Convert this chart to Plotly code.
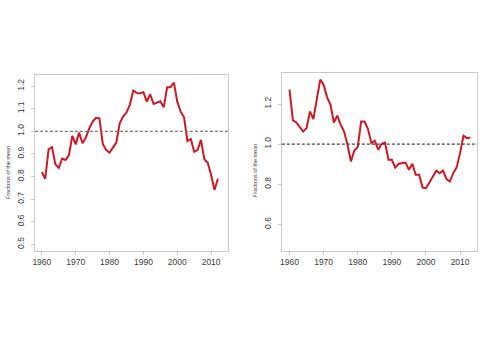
import plotly.graph_objects as go

years_a = list(range(1960, 2013))
values_a = [0.82, 0.79, 0.92, 0.93, 0.854, 0.838, 0.879, 0.873, 0.895, 0.98,
            0.942, 0.994, 0.947, 0.972, 1.013, 1.043, 1.06, 1.057, 0.944, 0.917,
            0.906, 0.93, 0.95, 1.035, 1.065, 1.083, 1.117, 1.18, 1.17, 1.167,
            1.173, 1.131, 1.164, 1.121, 1.127, 1.133, 1.106, 1.195, 1.195, 1.215,
            1.131, 1.087, 1.062, 0.957, 0.966, 0.909, 0.917, 0.962, 0.876, 0.861,
            0.807, 0.74, 0.79]

years_b = list(range(1960, 2014))
values_b = [1.272, 1.118, 1.108, 1.088, 1.063, 1.08, 1.163, 1.125, 1.222, 1.322,
            1.297, 1.235, 1.197, 1.108, 1.142, 1.097, 1.063, 0.997, 0.913, 0.968,
            0.985, 1.113, 1.113, 1.075, 1.005, 1.017, 0.972, 1.002, 1.008, 0.922,
            0.922, 0.883, 0.902, 0.905, 0.908, 0.872, 0.902, 0.847, 0.847, 0.783,
            0.78, 0.808, 0.838, 0.867, 0.855, 0.868, 0.825, 0.813, 0.855, 0.885,
            0.955, 1.042, 1.03, 1.033]

x_ticks = [1960, 1970, 1980, 1990, 2000, 2010]
y_ticks_a = [0.5, 0.6, 0.7, 0.8, 0.9, 1.0, 1.1, 1.2]
y_ticks_b = [0.6, 0.8, 1.0, 1.2]
ref_level = 1.0
axis_title = "Fractions of the mean"

W, H = 480, 342
RED = "#cc1a22"
BOX = "#c8c8c8"
TXT = "#3a3a3a"

fig = go.Figure()
fig.add_trace(go.Scatter(x=years_a, y=values_a, mode="lines",
                         line=dict(color=RED, width=2), xaxis="x", yaxis="y",
                         showlegend=False, hoverinfo="skip"))
fig.add_trace(go.Scatter(x=years_b, y=values_b, mode="lines",
                         line=dict(color=RED, width=2), xaxis="x2", yaxis="y2",
                         showlegend=False, hoverinfo="skip"))

common = dict(showline=True, mirror=True, linecolor=BOX, linewidth=1,
              ticks="outside", ticklen=3, tickcolor=BOX, tickwidth=1,
              showgrid=False, zeroline=False,
              tickfont=dict(family="Liberation Sans, Arial", size=8.5, color=TXT))

fig.update_layout(
    width=W, height=H, margin=dict(l=0, r=0, t=0, b=0),
    paper_bgcolor="white", plot_bgcolor="white",
    xaxis=dict(domain=[33 / W, 227 / W], range=[1957.94, 2015.0],
               tickvals=x_ticks, anchor="y", **common),
    yaxis=dict(domain=[1 - 250.5 / H, 1 - 75 / H], range=[0.4726, 1.249],
               tickvals=y_ticks_a, tickformat=".1f", tickangle=-90,
               ticklabelstandoff=3, anchor="x", **common),
    xaxis2=dict(domain=[281 / W, 477 / W], range=[1957.75, 2014.96],
                tickvals=x_ticks, anchor="y2", **common),
    yaxis2=dict(domain=[1 - 251 / H, 1 - 73.3 / H], range=[0.4665, 1.3535],
                tickvals=y_ticks_b, tickformat=".1f", tickangle=-90,
                ticklabelstandoff=3, anchor="x2", **common),
    shapes=[
        dict(type="line", xref="x domain", yref="y", x0=0, x1=1,
             y0=ref_level, y1=ref_level,
             line=dict(color="#777777", width=1.3, dash="3px,2px")),
        dict(type="line", xref="x2 domain", yref="y2", x0=0, x1=1,
             y0=ref_level, y1=ref_level,
             line=dict(color="#444444", width=1.3, dash="3px,2px")),
    ],
    annotations=[
        dict(text=axis_title, xref="paper", yref="paper", x=6 / W, y=1 - 172 / H,
             showarrow=False, textangle=-90, xanchor="center", yanchor="middle",
             font=dict(family="Liberation Sans, Arial", size=5.5, color=TXT)),
        dict(text=axis_title, xref="paper", yref="paper", x=254 / W, y=1 - 170 / H,
             showarrow=False, textangle=-90, xanchor="center", yanchor="middle",
             font=dict(family="Liberation Sans, Arial", size=5.5, color=TXT)),
    ],
)

fig.write_html("out.html")
